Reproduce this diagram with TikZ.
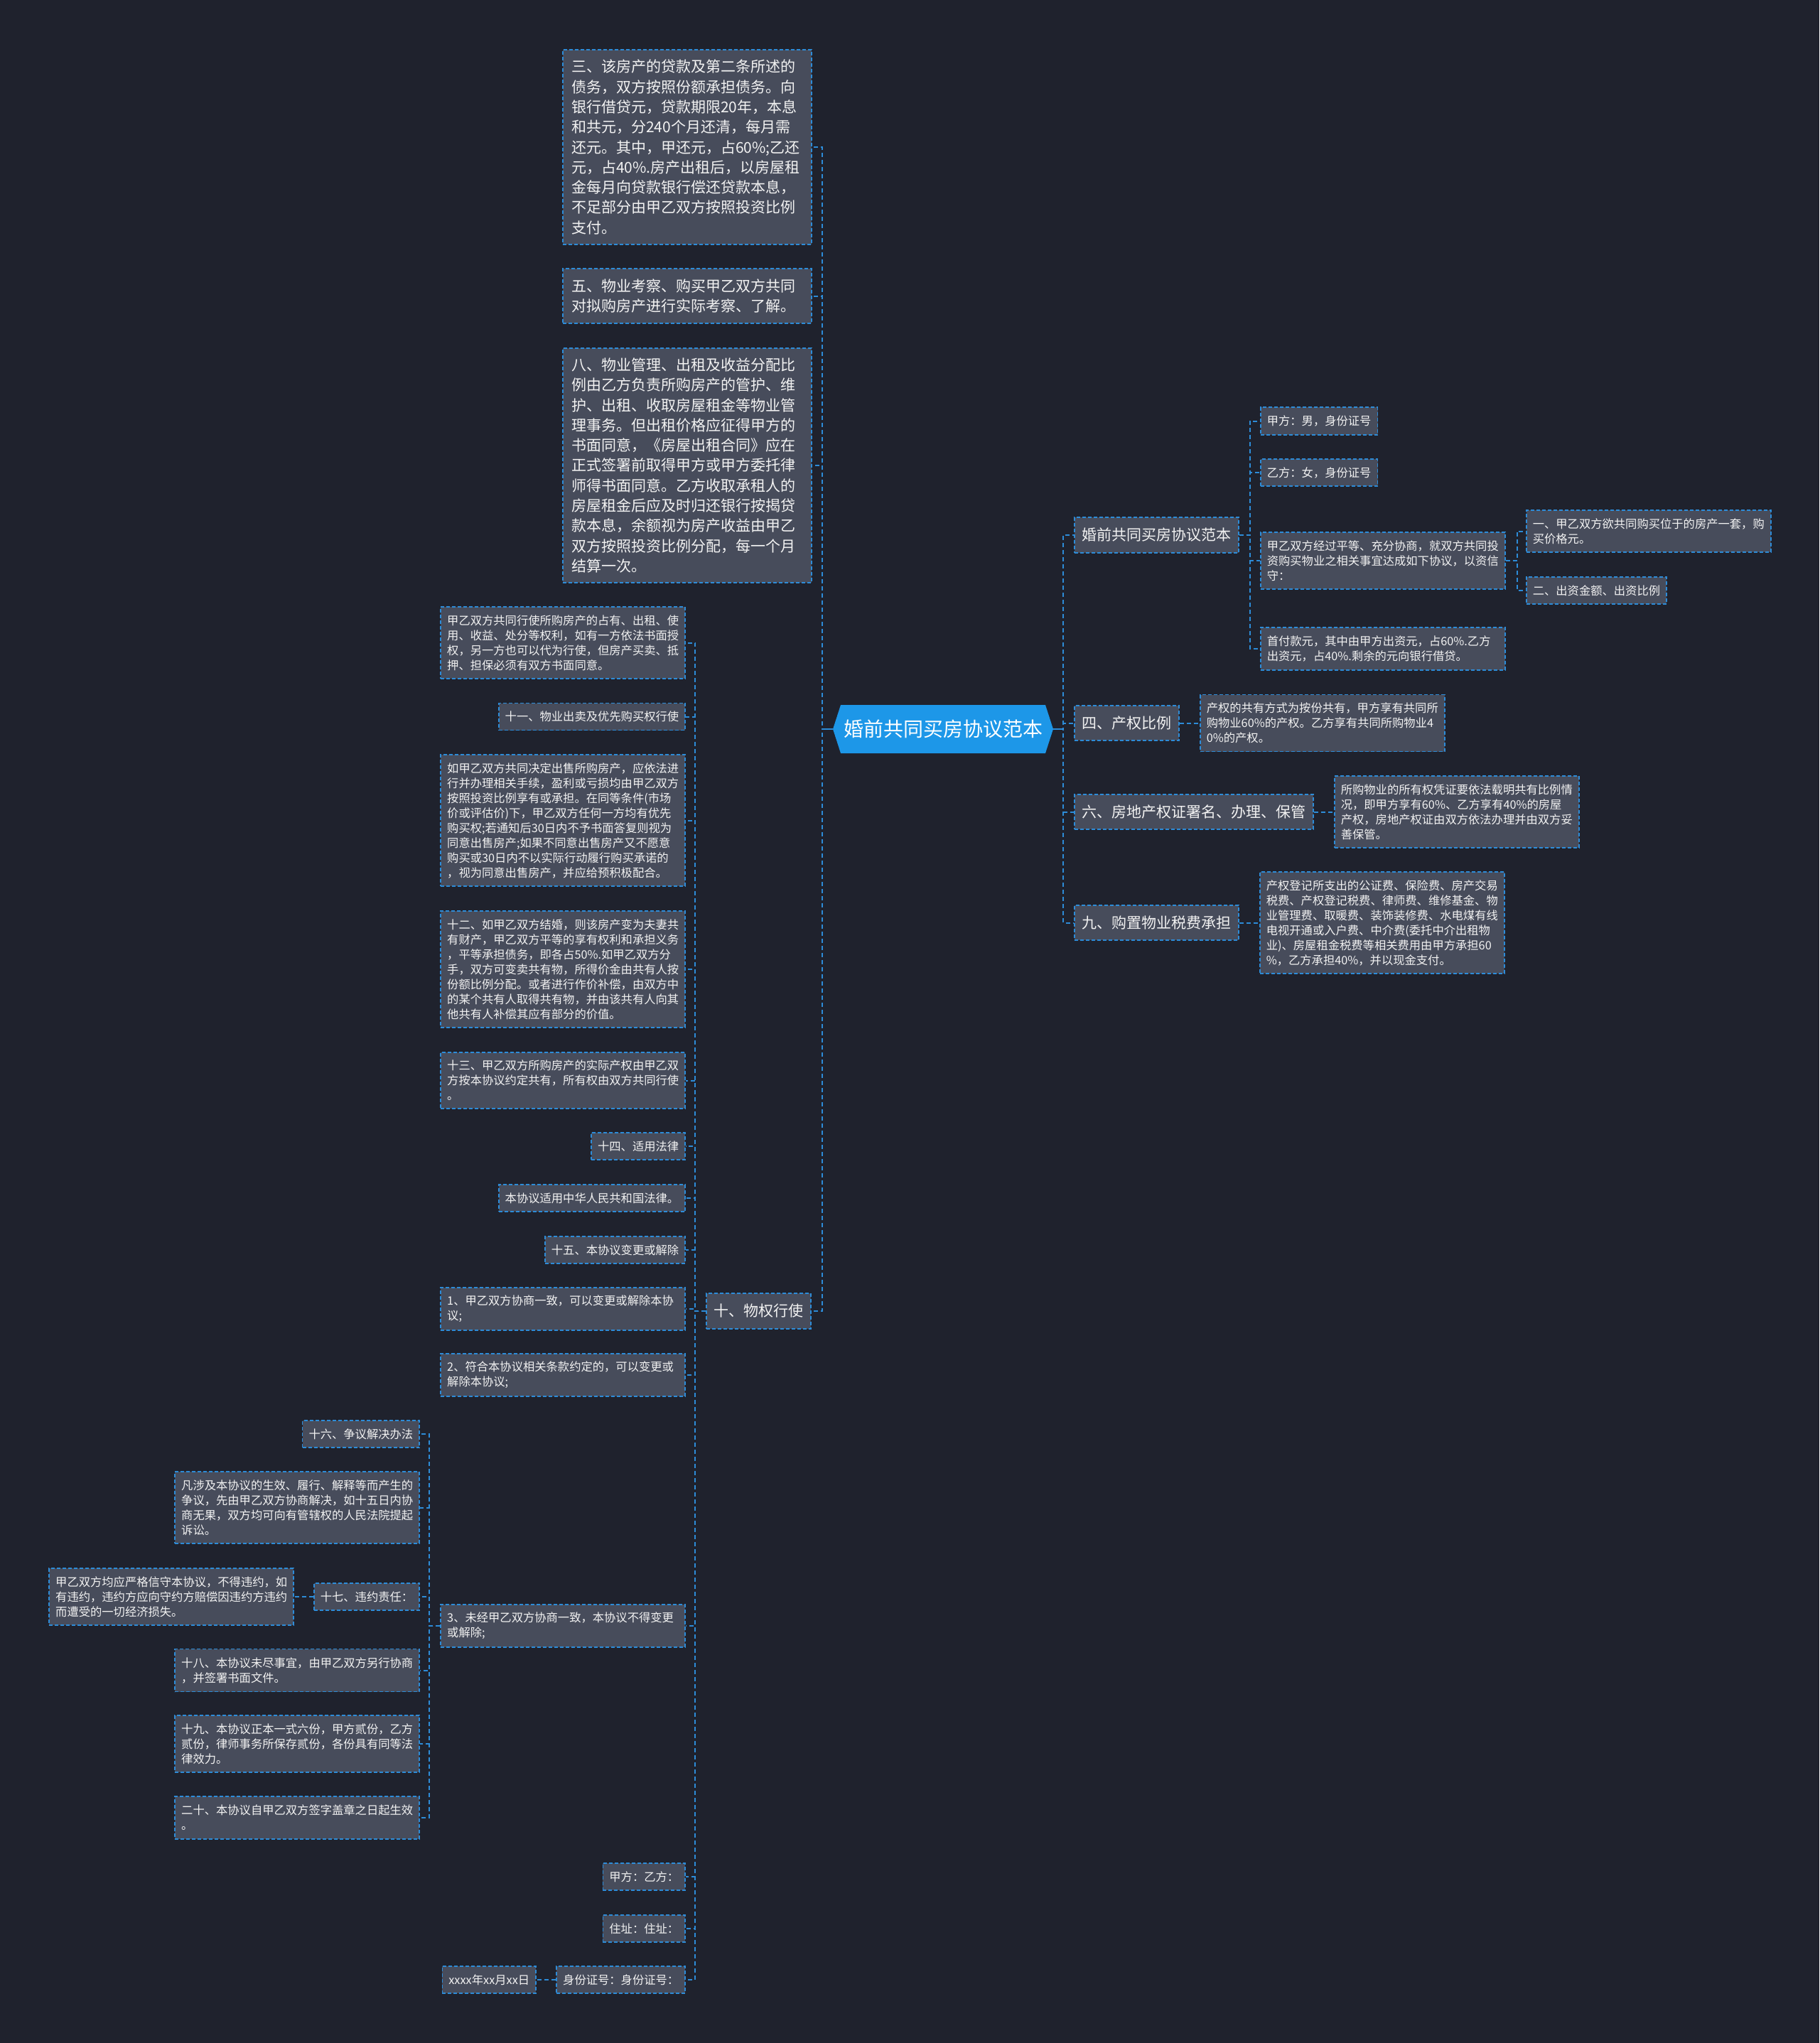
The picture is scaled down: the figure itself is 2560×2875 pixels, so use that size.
\documentclass[tikz,border=0pt]{standalone}
\usepackage{fontspec}
\setmainfont{Noto Sans CJK SC}
\definecolor{bgcol}{HTML}{1F222D}
\definecolor{boxfill}{HTML}{474C5B}
\definecolor{lineblue}{HTML}{2D8CD8}
\definecolor{rootblue}{HTML}{1D97E8}
\definecolor{txtcol}{HTML}{F2F2F2}
\begin{document}
\begin{tikzpicture}[x=1pt,y=-1pt,
  mmbox/.style={draw=lineblue, fill=boxfill, line width=1.6pt, dash pattern=on 5pt off 3pt, text=txtcol, inner ysep=0pt, align=left},
  smbox/.style={mmbox, font=\fontsize{16.3pt}{21pt}\selectfont, inner xsep=9pt},
  lgbox/.style={mmbox, font=\fontsize{21pt}{28.3pt}\selectfont, inner xsep=10.5pt},
  smw/.style={smbox, text width=326pt},
  lgw/.style={lgbox, inner xsep=12pt, text width=326pt},
  conn/.style={draw=lineblue, line width=2pt, dash pattern=on 6pt off 4pt},
  stub/.style={draw=lineblue, line width=2.4pt},
  rootnode/.style={font=\fontsize{28pt}{34pt}\selectfont, text=white, minimum width=310pt, minimum height=68pt, inner sep=0pt}
]
\fill[bgcol] (0,0) rectangle (2560,2875);
\useasboundingbox (0,0) rectangle (2560,2875);

% root
\fill[rootblue] (1172,1026) -- (1183,992) -- (1471,992) -- (1482,1026) -- (1471,1060) -- (1183,1060) -- cycle;
\node[rootnode] (root) at (1327,1026) {婚前共同买房协议范本};

% left level 1
\node[lgw, minimum height=274pt, anchor=east] (n3) at (1143,207) {三、该房产的贷款及第二条所述的\\债务，双方按照份额承担债务。向\\银行借贷元，贷款期限20年，本息\\和共元，分240个月还清，每月需\\还元。其中，甲还元，占60\%;乙还\\元，占40\%.房产出租后，以房屋租\\金每月向贷款银行偿还贷款本息，\\不足部分由甲乙双方按照投资比例\\支付。};
\node[lgw, minimum height=77pt, anchor=east] (n5) at (1143,416.5) {五、物业考察、购买甲乙双方共同\\对拟购房产进行实际考察、了解。};
\node[lgw, minimum height=330pt, anchor=east] (n8) at (1143,655) {八、物业管理、出租及收益分配比\\例由乙方负责所购房产的管护、维\\护、出租、收取房屋租金等物业管\\理事务。但出租价格应征得甲方的\\书面同意，《房屋出租合同》应在\\正式签署前取得甲方或甲方委托律\\师得书面同意。乙方收取承租人的\\房屋租金后应及时归还银行按揭贷\\款本息，余额视为房产收益由甲乙\\双方按照投资比例分配，每一个月\\结算一次。};
\node[lgbox, minimum height=50pt, anchor=east] (n10) at (1142,1845) {十、物权行使};

% right level 1
\node[lgbox, minimum height=50pt, anchor=west] (s) at (1511,753) {婚前共同买房协议范本};
\node[lgbox, minimum height=49pt, anchor=west] (p4) at (1511,1017.5) {四、产权比例};
\node[lgbox, minimum height=49pt, anchor=west] (p6) at (1511,1142.5) {六、房地产权证署名、办理、保管};
\node[lgbox, minimum height=49pt, anchor=west] (p9) at (1511,1298.5) {九、购置物业税费承担};

% sub children
\node[smbox, minimum height=39pt, anchor=west] (a1) at (1773,592.5) {甲方：男，身份证号};
\node[smbox, minimum height=38pt, anchor=west] (a2) at (1773,665) {乙方：女，身份证号};
\node[smw, minimum height=80pt, anchor=west] (a3) at (1773,789) {甲乙双方经过平等、充分协商，就双方共同投\\资购买物业之相关事宜达成如下协议，以资信\\守：};
\node[smw, minimum height=60pt, anchor=west] (a4) at (1773,913) {首付款元，其中由甲方出资元，占60\%.乙方\\出资元，占40\%.剩余的元向银行借贷。};
\node[smw, minimum height=59pt, anchor=west] (a31) at (2147,747.5) {一、甲乙双方欲共同购买位于的房产一套，购\\买价格元。};
\node[smbox, minimum height=38pt, anchor=west] (a32) at (2147,831) {二、出资金额、出资比例};

\node[smw, minimum height=80pt, anchor=west] (p4c) at (1688,1017.5) {产权的共有方式为按份共有，甲方享有共同所\\购物业60\%的产权。乙方享有共同所购物业4\\0\%的产权。};
\node[smw, minimum height=101pt, anchor=west] (p6c) at (1877,1142.5) {所购物业的所有权凭证要依法载明共有比例情\\况，即甲方享有60\%、乙方享有40\%的房屋\\产权，房地产权证由双方依法办理并由双方妥\\善保管。};
\node[smw, minimum height=143pt, anchor=west] (p9c) at (1772,1298.5) {产权登记所支出的公证费、保险费、房产交易\\税费、产权登记税费、律师费、维修基金、物\\业管理费、取暖费、装饰装修费、水电煤有线\\电视开通或入户费、中介费(委托中介出租物\\业)、房屋租金税费等相关费用由甲方承担60\\\%，乙方承担40\%，并以现金支付。};

% children of 十
\node[smw, minimum height=101pt, anchor=east] (b1) at (965,904.5) {甲乙双方共同行使所购房产的占有、出租、使\\用、收益、处分等权利，如有一方依法书面授\\权，另一方也可以代为行使，但房产买卖、抵\\押、担保必须有双方书面同意。};
\node[smbox, minimum height=38pt, anchor=east] (b2) at (965,1008.5) {十一、物业出卖及优先购买权行使};
\node[smw, minimum height=185pt, anchor=east] (b3) at (965,1154.5) {如甲乙双方共同决定出售所购房产，应依法进\\行并办理相关手续，盈利或亏损均由甲乙双方\\按照投资比例享有或承担。在同等条件(市场\\价或评估价)下，甲乙双方任何一方均有优先\\购买权;若通知后30日内不予书面答复则视为\\同意出售房产;如果不同意出售房产又不愿意\\购买或30日内不以实际行动履行购买承诺的\\，视为同意出售房产，并应给预积极配合。};
\node[smw, minimum height=164pt, anchor=east] (b4) at (965,1364) {十二、如甲乙双方结婚，则该房产变为夫妻共\\有财产，甲乙双方平等的享有权利和承担义务\\，平等承担债务，即各占50\%.如甲乙双方分\\手，双方可变卖共有物，所得价金由共有人按\\份额比例分配。或者进行作价补偿，由双方中\\的某个共有人取得共有物，并由该共有人向其\\他共有人补偿其应有部分的价值。};
\node[smw, minimum height=79pt, anchor=east] (b5) at (965,1520.5) {十三、甲乙双方所购房产的实际产权由甲乙双\\方按本协议约定共有，所有权由双方共同行使\\。};
\node[smbox, minimum height=38pt, anchor=east] (b6) at (965,1613) {十四、适用法律};
\node[smbox, minimum height=38pt, anchor=east] (b7) at (965,1686) {本协议适用中华人民共和国法律。};
\node[smbox, minimum height=38pt, anchor=east] (b8) at (965,1759) {十五、本协议变更或解除};
\node[smw, minimum height=60pt, anchor=east] (b9) at (965,1842) {1、甲乙双方协商一致，可以变更或解除本协\\议;};
\node[smw, minimum height=60pt, anchor=east] (b10) at (965,1935) {2、符合本协议相关条款约定的，可以变更或\\解除本协议;};
\node[smw, minimum height=60pt, anchor=east] (b11) at (965,2288) {3、未经甲乙双方协商一致，本协议不得变更\\或解除;};
\node[smbox, minimum height=38pt, anchor=east] (b12) at (965,2641) {甲方：乙方：};
\node[smbox, minimum height=38pt, anchor=east] (b13) at (965,2714) {住址：住址：};
\node[smbox, minimum height=38pt, anchor=east] (b14) at (965,2786) {身份证号：身份证号：};
\node[smbox, minimum height=38pt, anchor=east] (b14a) at (755,2786) {xxxx年xx月xx日};

% children of 3、
\node[smbox, minimum height=38pt, anchor=east] (c1) at (591,2018) {十六、争议解决办法};
\node[smw, minimum height=101pt, anchor=east] (c2) at (591,2121.5) {凡涉及本协议的生效、履行、解释等而产生的\\争议，先由甲乙双方协商解决，如十五日内协\\商无果，双方均可向有管辖权的人民法院提起\\诉讼。};
\node[smbox, minimum height=38pt, anchor=east] (c3) at (591,2247) {十七、违约责任：};
\node[smw, minimum height=80pt, anchor=east] (c3a) at (414,2247) {甲乙双方均应严格信守本协议，不得违约，如\\有违约，违约方应向守约方赔偿因违约方违约\\而遭受的一切经济损失。};
\node[smw, minimum height=60pt, anchor=east] (c4) at (591,2350.5) {十八、本协议未尽事宜，由甲乙双方另行协商\\，并签署书面文件。};
\node[smw, minimum height=80pt, anchor=east] (c5) at (591,2454) {十九、本协议正本一式六份，甲方贰份，乙方\\贰份，律师事务所保存贰份，各份具有同等法\\律效力。};
\node[smw, minimum height=60pt, anchor=east] (c6) at (591,2558) {二十、本协议自甲乙双方签字盖章之日起生效\\。};

% connectors: root to left
\foreach \c in {n3,n5,n8,n10} \draw[conn] (root.west) -- ++(-15,0) |- (\c.east);
\draw[stub] (root.west) -- ++(-15,0);
% root to right
\foreach \c in {s,p4,p6,p9} \draw[conn] (root.east) -- ++(14,0) |- (\c.west);
\draw[stub] (root.east) -- ++(14,0);
% sub
\foreach \c in {a1,a2,a3,a4} \draw[conn] (s.east) -- ++(15,0) |- (\c.west);
\foreach \c in {a31,a32} \draw[conn] (a3.east) -- ++(16,0) |- (\c.west);
\draw[conn] (p4.east) -- ++(15,0) |- (p4c.west);
\draw[conn] (p6.east) -- ++(15,0) |- (p6c.west);
\draw[conn] (p9.east) -- ++(15,0) |- (p9c.west);
% 十
\foreach \c in {b1,b2,b3,b4,b5,b6,b7,b8,b9,b10,b11,b12,b13,b14} \draw[conn] (n10.west) -- ++(-15,0) |- (\c.east);
\draw[conn] (b14.west) -- (b14a.east);
% 3、
\foreach \c in {c1,c2,c3,c4,c5,c6} \draw[conn] (b11.west) -- ++(-15,0) |- (\c.east);
\draw[conn] (c3.west) -- (c3a.east);
\end{tikzpicture}
\end{document}
